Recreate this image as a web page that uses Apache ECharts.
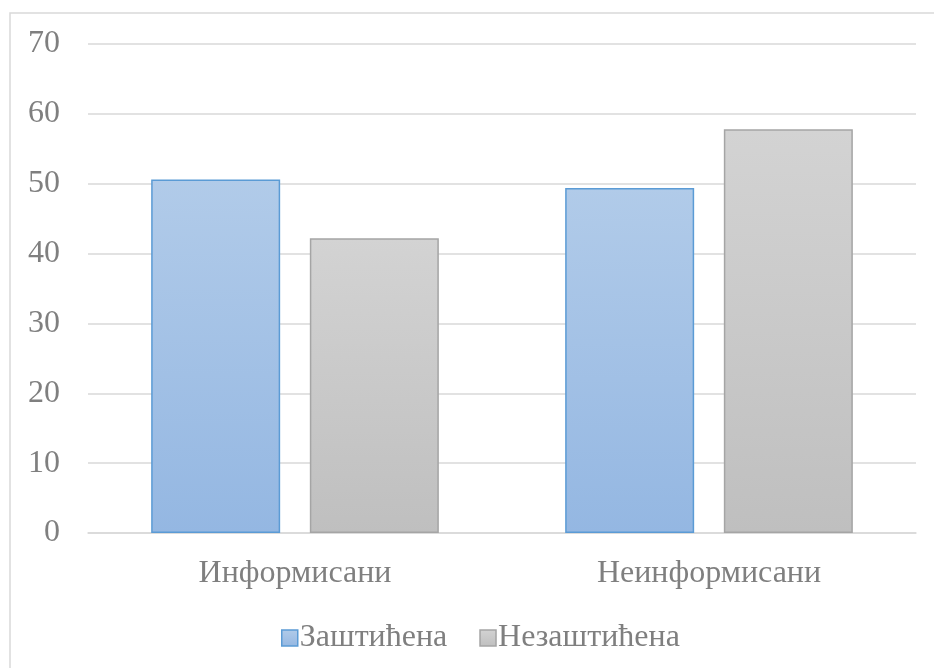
<!DOCTYPE html>
<html>
<head>
<meta charset="utf-8">
<script src="https://cdn.jsdelivr.net/npm/echarts@6/dist/echarts.min.js"></script>
<style>
  html, body { margin: 0; padding: 0; background: #fff; }
  #chart { width: 934px; height: 668px; }
</style>
</head>
<body>
<div id="chart"></div>
<script>
const categories = ['Информисани', 'Неинформисани'];
const zasticena = [50.6, 49.4];
const nezasticena = [42.2, 57.8];
const seriesNames = ['Заштићена', 'Незаштићена'];

const textColor = '#7f7f7f';
const fontFamily = '"Liberation Serif", "Times New Roman", serif';

const blueFill = new echarts.graphic.LinearGradient(0, 0, 0, 1, [
  { offset: 0, color: '#b1cbe9' },
  { offset: 1, color: '#94b7e2' }
]);
const grayFill = new echarts.graphic.LinearGradient(0, 0, 0, 1, [
  { offset: 0, color: '#d3d3d3' },
  { offset: 1, color: '#bfbfbf' }
]);

const chart = echarts.init(document.getElementById('chart'), null, { renderer: 'canvas' });

chart.setOption({
  animation: false,
  textStyle: { fontFamily: fontFamily },
  graphic: [
    {
      type: 'rect',
      shape: { x: 10, y: 13, width: 1000, height: 1000 },
      style: { fill: 'none', stroke: '#d9d9d9', lineWidth: 1.5 },
      silent: true
    }
  ],
  grid: { left: 88, right: 18, top: 44, bottom: 135 },
  legend: {
    left: 276,
    top: 617,
    icon: 'rect',
    itemWidth: 16,
    itemHeight: 16,
    itemGap: 32,
    textStyle: { color: textColor, fontSize: 32, fontFamily: fontFamily, padding: [0, 0, 0, -3] },
    data: [
      { name: seriesNames[0], itemStyle: { color: blueFill, borderColor: '#5b9bd5', borderWidth: 1.5 } },
      { name: seriesNames[1], itemStyle: { color: grayFill, borderColor: '#a5a5a5', borderWidth: 1.5 } }
    ]
  },
  xAxis: {
    type: 'category',
    data: categories,
    axisLine: { show: true, lineStyle: { color: '#d9d9d9', width: 1.5 } },
    axisTick: { show: false },
    axisLabel: { color: textColor, fontSize: 32, margin: 25, fontFamily: fontFamily }
  },
  yAxis: {
    type: 'value',
    min: 0,
    max: 70,
    interval: 10,
    axisLine: { show: false },
    axisTick: { show: false },
    splitLine: { lineStyle: { color: '#d9d9d9', width: 1.5 } },
    axisLabel: { color: textColor, fontSize: 32, margin: 28, fontFamily: fontFamily }
  },
  series: [
    {
      name: seriesNames[0],
      type: 'bar',
      data: zasticena,
      barWidth: 129,
      barGap: '23%',
      itemStyle: { color: blueFill, borderColor: '#5b9bd5', borderWidth: 1.5 }
    },
    {
      name: seriesNames[1],
      type: 'bar',
      data: nezasticena,
      barWidth: 129,
      itemStyle: { color: grayFill, borderColor: '#a5a5a5', borderWidth: 1.5 }
    }
  ]
});
</script>
</body>
</html>
